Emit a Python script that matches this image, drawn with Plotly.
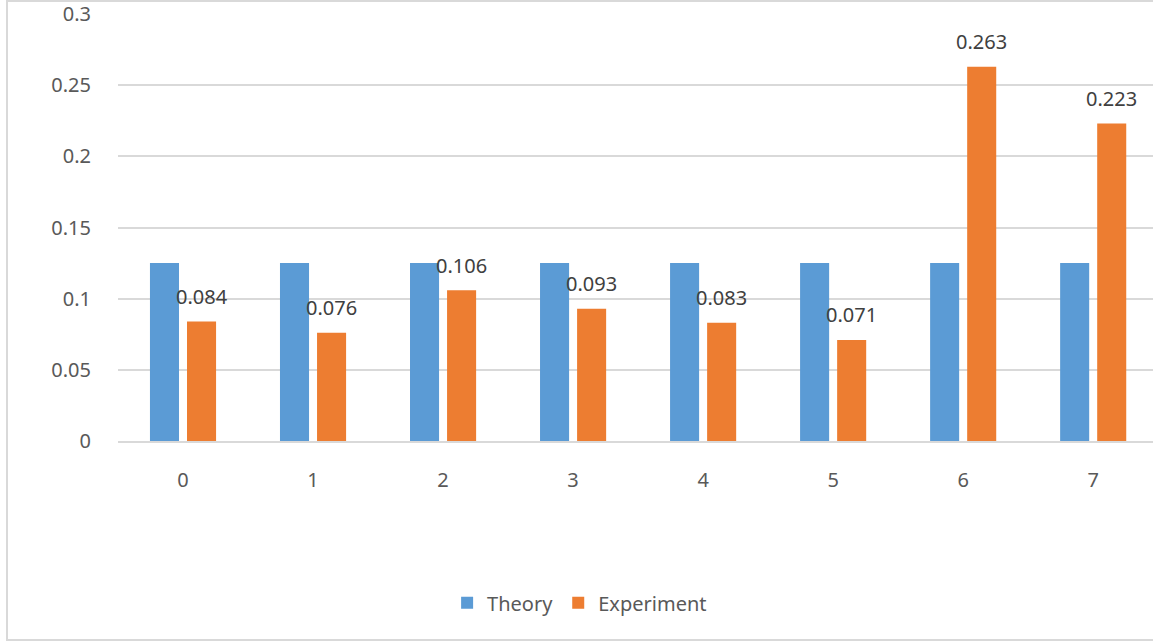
import plotly.graph_objects as go

# Category labels and the two series
categories = ["0", "1", "2", "3", "4", "5", "6", "7"]
theory = [0.125, 0.125, 0.125, 0.125, 0.125, 0.125, 0.125, 0.125]
experiment = [0.084, 0.076, 0.106, 0.093, 0.083, 0.071, 0.263, 0.223]
y_ticks = [0, 0.05, 0.1, 0.15, 0.2, 0.25, 0.3]
y_tick_text = ["0", "0.05", "0.1", "0.15", "0.2", "0.25", "0.3"]

BLUE = "#5B9BD5"
ORANGE = "#ED7D31"
TEXT = "#595959"
GRID = "#D9D9D9"
FONT = "Noto Sans"
FS = 20

xs = list(range(len(categories)))

fig = go.Figure()
fig.add_trace(go.Bar(x=xs, y=theory, name="Theory", marker=dict(color=BLUE, line=dict(width=0))))
fig.add_trace(go.Bar(x=xs, y=experiment, name="Experiment", marker=dict(color=ORANGE, line=dict(width=0))))

# Value labels above the Experiment bars
bargap = 0.43
bargroupgap = 0.216
slot = (1 - bargap) / 2
for x, v in zip(xs, experiment):
    fig.add_annotation(
        x=x + slot / 2, y=v, xref="x", yref="y",
        text=f"{v:.3f}", showarrow=False,
        yanchor="middle", yshift=25,
        font=dict(family=FONT, size=FS, color="#404040"),
    )

# Light chart-area border
fig.add_shape(
    type="rect", xref="paper", yref="paper",
    x0=(7 - 118) / 1035, x1=1.05,
    y0=(441 - 640) / 427, y1=(441 - 1) / 427,
    line=dict(color=GRID, width=2), fillcolor="rgba(0,0,0,0)", layer="below",
)

fig.update_layout(
    width=1153, height=644,
    margin=dict(l=118, r=0, t=14, b=203),
    paper_bgcolor="white", plot_bgcolor="white",
    barmode="group", bargap=bargap, bargroupgap=bargroupgap,
    font=dict(family=FONT, size=FS, color=TEXT),
    showlegend=True,
    legend=dict(
        orientation="h", x=0.446, xanchor="center", y=-0.379, yanchor="middle",
        font=dict(family=FONT, size=FS, color=TEXT),
        itemwidth=30, tracegroupgap=0,
    ),
    xaxis=dict(
        range=[-0.5, 7.46],
        tickvals=xs, ticktext=categories,
        showgrid=False, zeroline=False,
        showline=True, linecolor=GRID, linewidth=2,
        ticks="outside", ticklen=20, tickcolor="rgba(0,0,0,0)",
        tickfont=dict(family=FONT, size=FS, color=TEXT),
    ),
    yaxis=dict(
        range=[0, 0.3],
        tickvals=y_ticks, ticktext=y_tick_text,
        showgrid=True, gridcolor=GRID, gridwidth=2,
        zeroline=False, showline=False,
        ticks="outside", ticklen=22, tickcolor="rgba(0,0,0,0)",
        tickfont=dict(family=FONT, size=FS, color=TEXT),
    ),
)

fig.write_html("out.html")
